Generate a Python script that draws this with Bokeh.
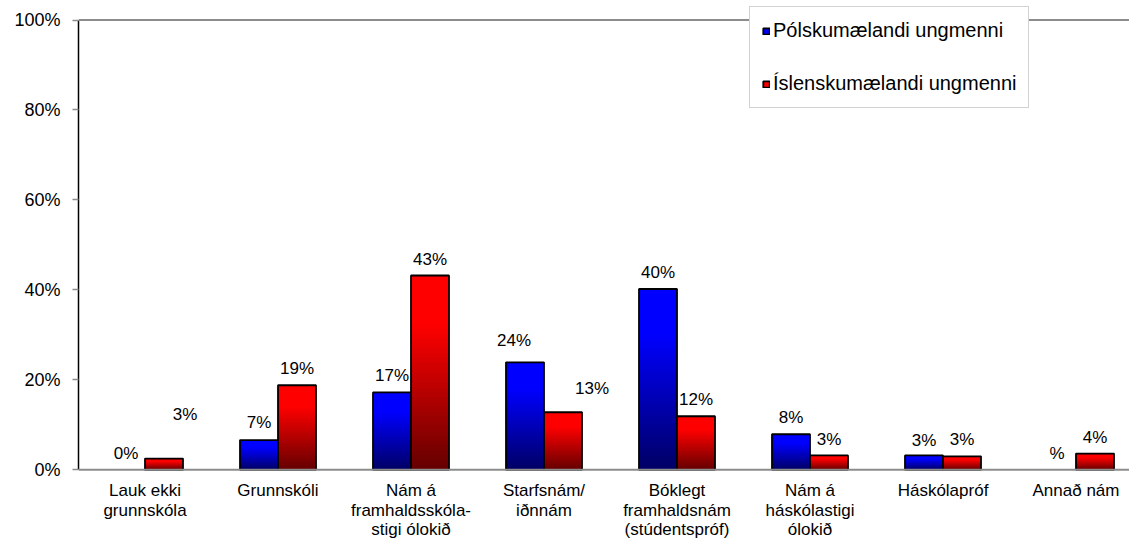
from bokeh.plotting import figure
from bokeh.models import (ColumnDataSource, Range1d, Span, Legend, LegendItem,
                          FixedTicker, LinearAxis, PrintfTickFormatter)
from bokeh.core.properties import value
from bokeh.embed import file_html
from bokeh.resources import INLINE

# ---------------- data ----------------
categories = [
    "Lauk ekki\ngrunnskóla",
    "Grunnskóli",
    "Nám á\nframhaldsskóla-\nstigi ólokið",
    "Starfsnám/\niðnnám",
    "Bóklegt\nframhaldsnám\n(stúdentspróf)",
    "Nám á\nháskólastigi\nólokið",
    "Háskólapróf",
    "Annað nám",
]
series_names = ["Pólskumælandi ungmenni", "Íslenskumælandi ungmenni"]
polish = [0.0, 6.6, 17.2, 23.9, 40.2, 7.9, 3.2, None]
icelandic = [2.5, 18.8, 43.2, 12.8, 11.9, 3.2, 3.0, 3.6]
polish_labels = ["0%", "7%", "17%", "24%", "40%", "8%", "3%", "%"]
icelandic_labels = ["3%", "19%", "43%", "13%", "12%", "3%", "3%", "4%"]
y_ticks = [0, 20, 40, 60, 80, 100]

# label placement tweaks (screen pixels) as in the original
polish_label_dx = [0, 0, 0, -11, 0, 0, 0, 0]
polish_label_rise = [16.6, 17.4, 17.4, 21.7, 16.0, 17.0, 15.4, 16.6]
icelandic_label_dx = [21, 0, 0, 29, 0, 0, 0, 0]
icelandic_label_rise = [44.0, 17.0, 16.0, 24.0, 16.7, 16.4, 16.4, 16.3]

# ---------------- layout constants ----------------
W, H = 1129, 542
LEFT = 78
PX_PER_PCT = 4.498
PX_PER_CAT = 133.0
ZERO_FROM_TOP = 469.3
FRAME_W = W - LEFT
BAR_W = 38.0 / PX_PER_CAT
FONT = "Liberation Sans"

p = figure(width=W, height=H, output_backend="svg", toolbar_location=None,
           x_range=Range1d(0, FRAME_W / PX_PER_CAT),
           y_range=Range1d(-(H - ZERO_FROM_TOP) / PX_PER_PCT, ZERO_FROM_TOP / PX_PER_PCT),
           x_axis_location=None, y_axis_location=None,
           min_border_left=LEFT, min_border_right=0, min_border_top=0, min_border_bottom=0)
p.outline_line_color = None
p.background_fill_color = "white"
p.border_fill_color = "white"
p.xgrid.visible = False
p.ygrid.visible = False

yax = LinearAxis(ticker=FixedTicker(ticks=y_ticks),
                 formatter=PrintfTickFormatter(format="%d%%"),
                 bounds=(0, 100))
yax.axis_line_color = "black"
yax.axis_line_width = 1.5
yax.major_tick_line_color = "#8c8c8c"
yax.major_tick_line_width = 1.5
yax.major_tick_out = 6
yax.major_tick_in = 0
yax.minor_tick_out = 0
yax.minor_tick_in = 0
yax.major_label_standoff = 12
yax.major_label_text_font = FONT
yax.major_label_text_font_size = "18px"
yax.major_label_text_color = "black"
p.add_layout(yax, "left")
for g in p.grid:
    g.visible = False


def shade(lo, hi, t):
    return lo + (hi - lo) * min(1.0, t / 0.75)


def gradient_source(vals, centre_shift, channel):
    d = dict(left=[], right=[], bottom=[], top=[], color=[])
    n = 40
    for i, v in enumerate(vals):
        if v is None or v <= 0:
            continue
        cx = i + 0.5 + centre_shift
        for k in range(n, 0, -1):
            t = (k - 0.5) / n
            c = int(round(shade(100, 255, t)))
            d["left"].append(cx - BAR_W / 2)
            d["right"].append(cx + BAR_W / 2)
            d["bottom"].append(0)
            d["top"].append(v * k / n)
            d["color"].append("#%02x0000" % c if channel == "r" else "#0000%02x" % c)
    return ColumnDataSource(d)


def outline_source(vals, centre_shift):
    d = dict(left=[], right=[], bottom=[], top=[])
    for i, v in enumerate(vals):
        if v is None or v <= 0:
            continue
        cx = i + 0.5 + centre_shift
        d["left"].append(cx - BAR_W / 2)
        d["right"].append(cx + BAR_W / 2)
        d["bottom"].append(0)
        d["top"].append(v)
    return ColumnDataSource(d)


legend_renderers = []
for vals, shift, ch in [(polish, -BAR_W / 2, "b"), (icelandic, BAR_W / 2, "r")]:
    rg = p.quad(left="left", right="right", bottom="bottom", top="top",
                source=gradient_source(vals, shift, ch),
                fill_color="color", line_color=None)
    ro = p.quad(left="left", right="right", bottom="bottom", top="top",
                source=outline_source(vals, shift),
                fill_color=None, line_color="black", line_width=1.8)
    legend_renderers.append([rg, ro])


# value labels
def label_source(vals, texts, shift, dx, rise):
    xs, ys = [], []
    for i, v in enumerate(vals):
        base = 0.0 if v is None else v
        xs.append(i + 0.5 + shift + dx[i] / PX_PER_CAT)
        ys.append(base + rise[i] / PX_PER_PCT)
    return ColumnDataSource(dict(x=xs, y=ys, text=texts))


for vals, texts, shift, dx, rise in [
        (polish, polish_labels, -BAR_W / 2, polish_label_dx, polish_label_rise),
        (icelandic, icelandic_labels, BAR_W / 2, icelandic_label_dx, icelandic_label_rise)]:
    p.text(x="x", y="y", text="text", source=label_source(vals, texts, shift, dx, rise),
           text_align="center", text_baseline="middle",
           text_font=value(FONT), text_font_size="17px", text_color="black")

# category labels
cat_src = ColumnDataSource(dict(
    x=[i + 0.5 for i in range(len(categories))],
    y=[-11.5 / PX_PER_PCT] * len(categories),
    text=categories))
p.text(x="x", y="y", text="text", source=cat_src, text_align="center",
       text_baseline="top", text_font=value(FONT), text_font_size="17px",
       text_line_height=1.02, text_color="black")

# axis lines
p.add_layout(Span(location=0, dimension="width", line_color="#8c8c8c", line_width=2))
p.add_layout(Span(location=100, dimension="width", line_color="#8c8c8c", line_width=2))

# legend
legend = Legend(items=[LegendItem(label=series_names[0], renderers=legend_renderers[0], index=0),
                       LegendItem(label=series_names[1], renderers=legend_renderers[1], index=0)],
                location=(671, 434), glyph_width=8, glyph_height=8,
                label_standoff=3, spacing=30, padding=12, margin=0,
                label_height=20, label_text_font=FONT, label_text_font_size="20px",
                label_text_color="black", border_line_color="#a6a6a6",
                border_line_width=1.5, background_fill_color="white",
                background_fill_alpha=1.0)
p.add_layout(legend)

open("out.html", "w").write(file_html(p, INLINE))
